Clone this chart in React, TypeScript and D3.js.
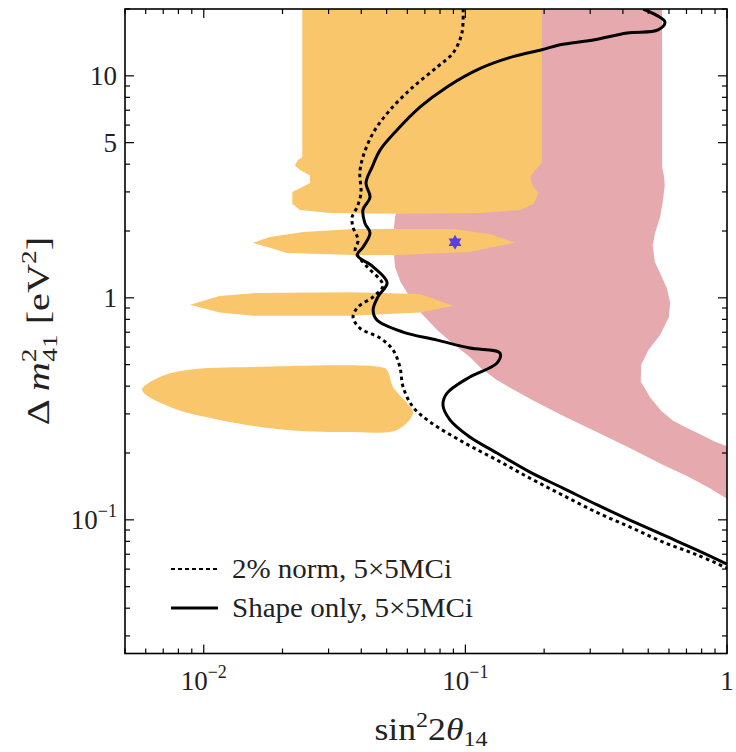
import React from "react";
import * as d3 from "d3";

const W = 736;
const H = 752;
const PLOT = { left: 125, right: 727, top: 9, bottom: 653.5 };
const X_DOMAIN: [number, number] = [0.005, 1];
const Y_DOMAIN: [number, number] = [0.025, 20];

// Sensitivity curves (sin^2 2theta, dm^2)
const solidCurve: [number, number][] = [
  [0.478, 20], [0.579, 17.5], [0.545, 16.1], [0.415, 15.6], [0.308, 14.5], [0.23, 13.8],
  [0.196, 13.1], [0.152, 12.2], [0.114, 10.8], [0.0851, 8.91], [0.0672, 7.24], [0.0548, 5.7],
  [0.0472, 4.63], [0.044, 3.88], [0.0417, 3.29], [0.0432, 2.84], [0.0406, 2.49], [0.0413, 2.17],
  [0.0432, 1.96], [0.0406, 1.69], [0.0386, 1.56], [0.0444, 1.38], [0.0502, 1.17], [0.0463, 1.01],
  [0.0444, 0.881], [0.0459, 0.794], [0.0578, 0.701], [0.078, 0.645], [0.104, 0.594], [0.1355, 0.564],
  [0.132, 0.508], [0.104, 0.44], [0.0851, 0.372], [0.0821, 0.329], [0.0873, 0.282], [0.104, 0.236],
  [0.132, 0.2], [0.1766, 0.164], [0.236, 0.139], [0.318, 0.117], [0.425, 0.0998], [0.57, 0.0855],
  [0.769, 0.0731], [1.0, 0.0632],
];

const dashedCurve: [number, number][] = [
  [0.098, 20], [0.097, 15.6], [0.0898, 12.7], [0.078, 10.96], [0.0631, 8.91], [0.0515, 7.01],
  [0.0444, 5.53], [0.0406, 4.31], [0.0395, 3.65], [0.0399, 2.97], [0.0386, 2.57], [0.0369, 2.31],
  [0.0372, 2.08], [0.0389, 1.82], [0.0379, 1.64], [0.0386, 1.56], [0.0421, 1.38], [0.0484, 1.14],
  [0.0444, 1.01], [0.0389, 0.91], [0.0372, 0.82], [0.0395, 0.731], [0.0472, 0.659], [0.0529, 0.582],
  [0.0562, 0.488], [0.0578, 0.397], [0.0631, 0.322], [0.0733, 0.276], [0.098, 0.224], [0.132, 0.186],
  [0.1766, 0.154], [0.236, 0.129], [0.318, 0.108], [0.425, 0.0929], [0.57, 0.0794], [0.769, 0.0695],
  [1.0, 0.0607],
];

// Allowed regions (orange)
const orangeBlock: [number, number][] = [
  [0.0238, 20], [0.196, 20], [0.196, 4.05], [0.185, 3.77], [0.177, 3.5], [0.181, 3.19],
  [0.19, 2.97], [0.183, 2.65], [0.162, 2.49], [0.114, 2.41], [0.0562, 2.39], [0.0304, 2.41],
  [0.0233, 2.49], [0.0218, 2.65], [0.0218, 3.0], [0.0233, 3.12], [0.0255, 3.29], [0.0254, 3.57],
  [0.0233, 3.77], [0.0223, 3.96], [0.0229, 4.18], [0.0238, 4.31],
];
const orangeBand1: [number, number][] = [
  [0.0154, 1.77], [0.0179, 1.88], [0.024, 1.98], [0.0372, 2.04], [0.0897, 2.04], [0.124, 1.94],
  [0.155, 1.77], [0.124, 1.68], [0.104, 1.61], [0.0562, 1.56], [0.0372, 1.56], [0.0208, 1.59],
  [0.0179, 1.68],
];
const orangeBand2: [number, number][] = [
  [0.00886, 0.93], [0.0115, 1.02], [0.0154, 1.05], [0.0362, 1.06], [0.0672, 1.04], [0.0897, 0.92],
  [0.0672, 0.86], [0.0362, 0.83], [0.0154, 0.83], [0.0115, 0.86],
];
const orangeBlob: [number, number][] = [
  [0.00581, 0.385], [0.0068, 0.44], [0.00863, 0.473], [0.0154, 0.488], [0.0472, 0.488],
  [0.0502, 0.473], [0.0529, 0.397], [0.0598, 0.336], [0.0631, 0.303], [0.0548, 0.254],
  [0.0372, 0.249], [0.0208, 0.254], [0.0115, 0.282], [0.00743, 0.322],
];

// Allowed region (pink)
const pinkRegion: [number, number][] = [
  [0.0562, 25], [0.565, 25], [0.565, 3.88], [0.575, 3.5], [0.578, 3.2], [0.568, 2.7],
  [0.555, 2.31], [0.53, 1.95], [0.52, 1.72], [0.53, 1.45], [0.555, 1.29], [0.59, 1.1],
  [0.606, 0.95], [0.6, 0.82], [0.555, 0.68], [0.5, 0.58], [0.47, 0.5], [0.468, 0.42],
  [0.508, 0.357], [0.56, 0.31], [0.62, 0.28], [0.7, 0.26], [0.79, 0.243], [0.9, 0.225],
  [1.05, 0.21], [1.05, 0.12], [0.85, 0.14], [0.7, 0.158], [0.57, 0.1766], [0.425, 0.2106],
  [0.318, 0.249], [0.236, 0.294], [0.18, 0.347], [0.15, 0.39], [0.132, 0.427], [0.115, 0.48],
  [0.104, 0.541], [0.09, 0.62], [0.078, 0.716], [0.068, 0.85], [0.0614, 1.01], [0.0565, 1.18],
  [0.0538, 1.38], [0.0529, 1.82], [0.0538, 2.31], [0.0562, 2.7],
];

const bestFit: [number, number] = [0.0913, 1.78];

const xLabels = [
  { v: 0.01, base: "10", exp: "\u22122" },
  { v: 0.1, base: "10", exp: "\u22121" },
  { v: 1, base: "1", exp: "" },
];
const yLabels = [
  { v: 10, base: "10", exp: "" },
  { v: 5, base: "5", exp: "" },
  { v: 1, base: "1", exp: "" },
  { v: 0.1, base: "10", exp: "\u22121" },
];
const legendItems = [
  { label: "2% norm, 5\u00d75MCi", dashed: true, width: 220 },
  { label: "Shape only, 5\u00d75MCi", dashed: false, width: 241 },
];

const ORANGE = "#fac66c";
const PINK = "#e6a9ad";
const STAR = "#5a3ee0";
const TEXT = "#222";
const FONT = "'Liberation Serif', 'Times New Roman', serif";

export default function App() {
  const x = d3.scaleLog().domain(X_DOMAIN).range([PLOT.left, PLOT.right]);
  const y = d3.scaleLog().domain(Y_DOMAIN).range([PLOT.bottom, PLOT.top]);

  const line = d3
    .line<[number, number]>()
    .x((d) => x(d[0]))
    .y((d) => y(d[1]))
    .curve(d3.curveCatmullRom.alpha(0.5));
  const polyLinear = d3
    .line<[number, number]>()
    .x((d) => x(d[0]))
    .y((d) => y(d[1]))
    .curve(d3.curveLinearClosed);
  const polySmooth = d3
    .line<[number, number]>()
    .x((d) => x(d[0]))
    .y((d) => y(d[1]))
    .curve(d3.curveCatmullRomClosed.alpha(0.5));

  const xTicks = x.ticks();
  const yTicks = y.ticks();
  const isMajor = (a: number, labels: { v: number }[]) =>
    labels.some((s) => Math.abs(a - s.v) / s.v < 1e-6);

  // hexagram marker
  const starPts: [number, number][] = d3.range(12).map((i) => [
    (i * Math.PI) / 6,
    i % 2 === 0 ? 7.5 : 4.2,
  ]);
  const starPath =
    d3
      .lineRadial<[number, number]>()
      .angle((d) => d[0])
      .radius((d) => d[1])
      .curve(d3.curveLinearClosed)(starPts) || "";

  const tickLenMajor = 9;
  const tickLenMinor = 5;

  return (
    <svg
      width={W}
      height={H}
      style={{ position: "absolute", left: 0, top: 0, background: "#fff" }}
      fontFamily={FONT}
    >
      <defs>
        <clipPath id="plotclip">
          <rect x={PLOT.left} y={PLOT.top} width={PLOT.right - PLOT.left} height={PLOT.bottom - PLOT.top} />
        </clipPath>
      </defs>
      <g clipPath="url(#plotclip)">
        <path d={polyLinear(pinkRegion) || ""} fill={PINK} />
        <path d={polyLinear(orangeBlock) || ""} fill={ORANGE} />
        <path d={polyLinear(orangeBand1) || ""} fill={ORANGE} />
        <path d={polyLinear(orangeBand2) || ""} fill={ORANGE} />
        <path d={polySmooth(orangeBlob) || ""} fill={ORANGE} />
        <path d={line(dashedCurve) || ""} fill="none" stroke="#000" strokeWidth={3} strokeDasharray="3.5 3.5" />
        <path d={line(solidCurve) || ""} fill="none" stroke="#000" strokeWidth={3} />
        <path d={starPath} transform={`translate(${x(bestFit[0])},${y(bestFit[1])})`} fill={STAR} />
      </g>

      {/* frame */}
      <rect
        x={PLOT.left}
        y={PLOT.top}
        width={PLOT.right - PLOT.left}
        height={PLOT.bottom - PLOT.top}
        fill="none"
        stroke="#000"
        strokeWidth={1.6}
      />

      {xTicks.map((t, i) => {
        const len = isMajor(t, xLabels) ? tickLenMajor : tickLenMinor;
        const px = x(t);
        return (
          <g key={`xt${i}`} stroke="#000" strokeWidth={1.2}>
            <line x1={px} x2={px} y1={PLOT.bottom} y2={PLOT.bottom - len} />
            <line x1={px} x2={px} y1={PLOT.top} y2={PLOT.top + len} />
          </g>
        );
      })}
      {yTicks.map((t, i) => {
        const len = isMajor(t, yLabels) ? tickLenMajor : tickLenMinor;
        const py = y(t);
        return (
          <g key={`yt${i}`} stroke="#000" strokeWidth={1.2}>
            <line x1={PLOT.left} x2={PLOT.left + len} y1={py} y2={py} />
            <line x1={PLOT.right} x2={PLOT.right - len} y1={py} y2={py} />
          </g>
        );
      })}

      {xLabels.map((d, i) => (
        <text key={`xl${i}`} x={x(d.v)} y={690} textAnchor="middle" fontSize={27} fill={TEXT}>
          {d.base}
          {d.exp && (
            <tspan fontSize={18} dy={-12}>
              {d.exp}
            </tspan>
          )}
        </text>
      ))}
      {yLabels.map((d, i) => (
        <text key={`yl${i}`} x={117} y={y(d.v) + 9} textAnchor="end" fontSize={27} fill={TEXT}>
          {d.base}
          {d.exp && (
            <tspan fontSize={18} dy={-12}>
              {d.exp}
            </tspan>
          )}
        </text>
      ))}

      {/* x axis title */}
      <g transform="translate(431, 740) scale(1.15, 1)">
        <text x={0} y={0} textAnchor="middle" fontSize={31} fill={TEXT}>
          sin
          <tspan fontSize={21} dy={-13}>2</tspan>
          <tspan dy={13}>2</tspan>
          <tspan fontStyle="italic">θ</tspan>
          <tspan fontSize={21} dy={6}>14</tspan>
        </text>
      </g>
      {/* y axis title */}
      <g transform="translate(49, 331) rotate(-90) scale(1.3, 1)">
        <text x={0} y={0} textAnchor="middle" fontSize={31} fill={TEXT}>
          Δ <tspan fontStyle="italic">m</tspan>
          <tspan fontSize={21} dy={-13}>2</tspan>
          <tspan fontSize={21} dx={-10} dy={21}>41</tspan>
          <tspan dy={-8}> [eV</tspan>
          <tspan fontSize={21} dy={-13}>2</tspan>
          <tspan dy={13}>]</tspan>
        </text>
      </g>

      {legendItems.map((d, i) => {
        const ly = 569 + i * 39;
        return (
          <g key={`lg${i}`}>
            <line
              x1={171}
              x2={218}
              y1={ly}
              y2={ly}
              stroke="#000"
              strokeWidth={d.dashed ? 2 : 3}
              strokeDasharray={d.dashed ? "4 3" : undefined}
            />
            <text
              x={232}
              y={ly + 9}
              fontSize={27}
              fill={TEXT}
              textLength={d.width}
              lengthAdjust="spacingAndGlyphs"
            >
              {d.label}
            </text>
          </g>
        );
      })}
    </svg>
  );
}
